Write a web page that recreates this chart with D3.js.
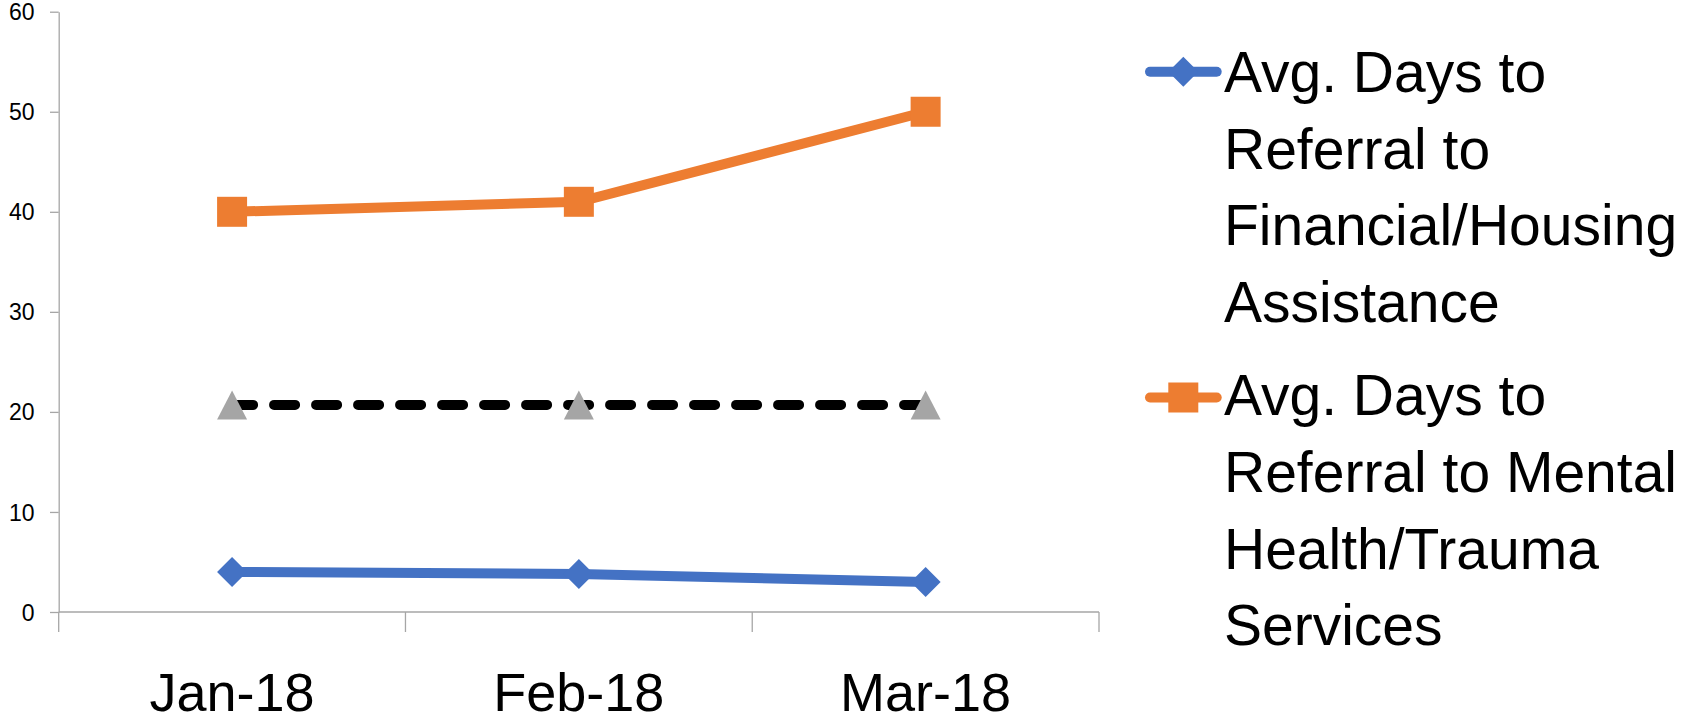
<!DOCTYPE html>
<html>
<head>
<meta charset="utf-8">
<script src="https://cdn.jsdelivr.net/npm/d3@7"></script>
<style>
  html, body { margin: 0; padding: 0; background: #fff; }
  svg { display: block; font-family: "Liberation Sans", Arial, sans-serif; }
</style>
</head>
<body>
<svg id="chart" width="1703" height="721"></svg>
<script>
// Monthly referral timing data
const categories = ["Jan-18", "Feb-18", "Mar-18"];
const financialHousingDays = [4.0, 3.8, 3.0];
const mentalHealthDays = [40, 41, 50];
const targetDays = [20.7, 20.7, 20.7];
const yTicks = [0, 10, 20, 30, 40, 50, 60];
const legendLines = [
  ["Avg. Days to", "Referral to", "Financial/Housing", "Assistance"],
  ["Avg. Days to", "Referral to Mental", "Health/Trauma", "Services"]
];

const colors = { blue: "#4472c4", orange: "#ed7d31", grey: "#a5a5a5", axis: "#a6a6a6" };

const svg = d3.select("#chart");

const plot = { left: 58.7, right: 1099, top: 11.7, bottom: 612 };

const x = d3.scaleBand().domain(categories).range([plot.left, plot.right]).padding(0);
const y = d3.scaleLinear().domain([0, 60]).range([plot.bottom, plot.top]);
const cx = d => x(d) + x.bandwidth() / 2;

// Value axis
const yAxis = svg.append("g")
  .attr("transform", `translate(${plot.left},0)`)
  .call(d3.axisLeft(y).tickValues(yTicks).tickSize(8.7).tickSizeOuter(0).tickPadding(15.5));
yAxis.select(".domain").attr("stroke", colors.axis).attr("stroke-width", 1.3);
yAxis.selectAll(".tick line").attr("stroke", colors.axis).attr("stroke-width", 1.3);
yAxis.selectAll(".tick text")
  .attr("font-size", 23).attr("fill", "#000")
  .attr("font-family", "'Liberation Sans', Arial, sans-serif")
  .attr("dy", "0.35em");

// Category axis: baseline, boundary ticks and labels
const xAxis = svg.append("g");
xAxis.append("line")
  .attr("x1", plot.left).attr("x2", plot.right)
  .attr("y1", y(0)).attr("y2", y(0))
  .attr("stroke", colors.axis).attr("stroke-width", 1.3);
const boundaries = categories.map(d => x(d)).concat([x(categories[categories.length - 1]) + x.bandwidth()]);
xAxis.selectAll("line.tick").data(boundaries).join("line")
  .attr("class", "tick")
  .attr("x1", d => d).attr("x2", d => d)
  .attr("y1", y(0)).attr("y2", y(0) + 20)
  .attr("stroke", colors.axis).attr("stroke-width", 1.3);
xAxis.selectAll("text").data(categories).join("text")
  .attr("x", d => cx(d))
  .attr("y", 710.7)
  .attr("text-anchor", "middle")
  .attr("font-size", 54)
  .attr("fill", "#000")
  .text(d => d);

const line = d3.line().x(d => cx(d.cat)).y(d => y(d.v));
const pts = vals => categories.map((c, i) => ({ cat: c, v: vals[i] }));

// Series lines
svg.append("path").datum(pts(financialHousingDays))
  .attr("d", line).attr("fill", "none")
  .attr("stroke", colors.blue).attr("stroke-width", 10).attr("stroke-linejoin", "round");
svg.append("path").datum(pts(mentalHealthDays))
  .attr("d", line).attr("fill", "none")
  .attr("stroke", colors.orange).attr("stroke-width", 10).attr("stroke-linejoin", "round");
svg.append("path").datum(pts(targetDays))
  .attr("d", line).attr("fill", "none")
  .attr("stroke", "#000").attr("stroke-width", 10)
  .attr("stroke-linecap", "round").attr("stroke-dasharray", "21,21");

// Marker shapes
const diamond = (s) => `M0,${-s / 2}L${s / 2},0L0,${s / 2}L${-s / 2},0Z`;
const square = (s) => `M${-s / 2},${-s / 2}h${s}v${s}h${-s}Z`;
const triangle = (w, h) => `M0,${-h / 2}L${w / 2},${h / 2}L${-w / 2},${h / 2}Z`;

svg.selectAll("path.m-blue").data(pts(financialHousingDays)).join("path")
  .attr("class", "m-blue")
  .attr("transform", d => `translate(${cx(d.cat)},${y(d.v)})`)
  .attr("d", diamond(30)).attr("fill", colors.blue);
svg.selectAll("path.m-orange").data(pts(mentalHealthDays)).join("path")
  .attr("class", "m-orange")
  .attr("transform", d => `translate(${cx(d.cat)},${y(d.v)})`)
  .attr("d", square(30)).attr("fill", colors.orange);
svg.selectAll("path.m-grey").data(pts(targetDays)).join("path")
  .attr("class", "m-grey")
  .attr("transform", d => `translate(${cx(d.cat)},${y(d.v)})`)
  .attr("d", triangle(30, 29)).attr("fill", colors.grey);

// Legend
const legendItems = [
  { color: colors.blue, marker: diamond(30), lines: legendLines[0], baseline: 91.7, symY: 71.7 },
  { color: colors.orange, marker: square(30), lines: legendLines[1], baseline: 415, symY: 397.5 }
];
const lineHeight = 76.8;
const legend = svg.append("g");
legendItems.forEach(item => {
  const g = legend.append("g");
  g.append("line")
    .attr("x1", 1150).attr("x2", 1216.7)
    .attr("y1", item.symY).attr("y2", item.symY)
    .attr("stroke", item.color).attr("stroke-width", 10).attr("stroke-linecap", "round");
  g.append("path")
    .attr("transform", `translate(1183.3,${item.symY})`)
    .attr("d", item.marker).attr("fill", item.color);
  g.selectAll("text").data(item.lines).join("text")
    .attr("x", 1224)
    .attr("y", (d, i) => item.baseline + i * lineHeight)
    .attr("font-size", 57)
    .attr("fill", "#000")
    .text(d => d);
});
</script>
</body>
</html>
